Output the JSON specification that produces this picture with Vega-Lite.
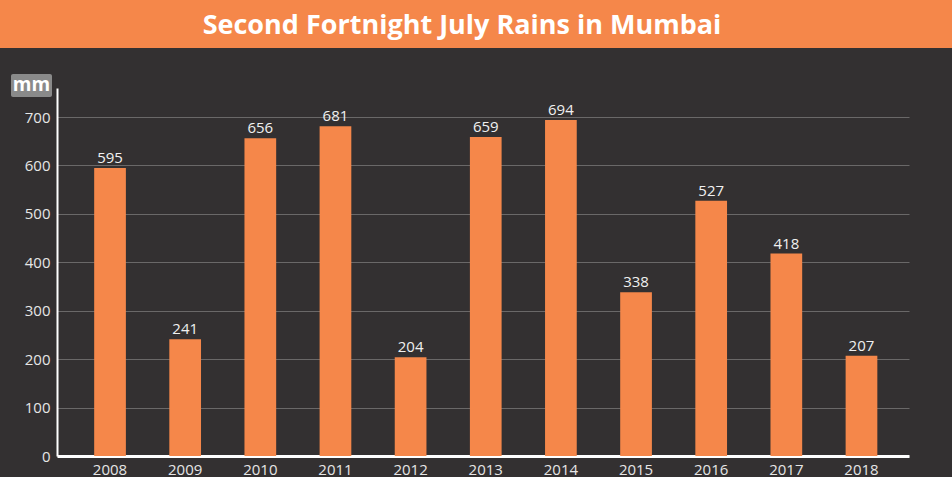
{
  "$schema": "https://vega.github.io/schema/vega-lite/v6.json",
  "background": "#333031",
  "padding": 0,
  "columns": 1,
  "align": "none",
  "spacing": 26,
  "config": {"view": {"stroke": null}, "font": "Open Sans"},
  "concat": [
    {
      "width": 952,
      "height": 48,
      "view": {"fill": "#F5874A", "stroke": null},
      "data": {"values": [{"t": "Second Fortnight July Rains in Mumbai"}]},
      "mark": {"type": "text", "font": "Open Sans", "fontWeight": "bold", "fontSize": 27, "color": "#ffffff", "dx": -14, "dy": 2},
      "encoding": {"text": {"field": "t", "type": "nominal"}}
    },
    {
      "columns": 1,
      "align": "none",
      "spacing": -9,
      "concat": [
        {
          "width": 52,
          "height": 23,
          "data": {"values": [{"u": "mm"}]},
          "encoding": {
            "x": {"field": "u", "type": "nominal", "scale": {"range": [11, 52], "paddingInner": 0, "paddingOuter": 0}, "axis": null}
          },
          "layer": [
            {"mark": {"type": "bar", "color": "#8A8A8A", "cornerRadius": 2}},
            {
              "mark": {"type": "text", "font": "Open Sans", "fontWeight": "bold", "fontSize": 19, "color": "#ffffff", "dy": -1},
              "encoding": {"text": {"field": "u", "type": "nominal"}}
            }
          ]
        },
        {
          "width": 910,
          "height": 368,
          "data": {"values": [
            {"year": "2008", "mm": 595},
            {"year": "2009", "mm": 241},
            {"year": "2010", "mm": 656},
            {"year": "2011", "mm": 681},
            {"year": "2012", "mm": 204},
            {"year": "2013", "mm": 659},
            {"year": "2014", "mm": 694},
            {"year": "2015", "mm": 338},
            {"year": "2016", "mm": 527},
            {"year": "2017", "mm": 418},
            {"year": "2018", "mm": 207}
          ]},
          "encoding": {
            "x": {
              "field": "year", "type": "ordinal",
              "scale": {"range": [57, 909], "paddingInner": 0.578, "paddingOuter": 0.458, "align": 0.54},
              "axis": {"title": null, "labelAngle": 0, "ticks": false, "grid": false, "domainColor": "#ffffff", "domainWidth": 3, "labelColor": "#e6e6e6", "labelFontSize": 15, "labelFont": "Open Sans", "labelPadding": 6}
            },
            "y": {
              "field": "mm", "type": "quantitative",
              "scale": {"domain": [0, 760], "nice": false},
              "axis": {"title": null, "offset": -57, "values": [0, 100, 200, 300, 400, 500, 600, 700], "ticks": false, "grid": true, "gridColor": "#6a6868", "gridWidth": 1, "domainColor": "#ffffff", "domainWidth": 2, "labelColor": "#e6e6e6", "labelFontSize": 15, "labelFont": "Open Sans", "labelPadding": 7, "minExtent": 0, "maxExtent": 0}
            }
          },
          "layer": [
            {"mark": {"type": "bar", "color": "#F5874A"}},
            {
              "mark": {"type": "text", "baseline": "alphabetic", "dy": -5, "color": "#f0f0f0", "fontSize": 15, "font": "Open Sans"},
              "encoding": {"text": {"field": "mm", "type": "quantitative"}}
            }
          ]
        }
      ]
    }
  ]
}
